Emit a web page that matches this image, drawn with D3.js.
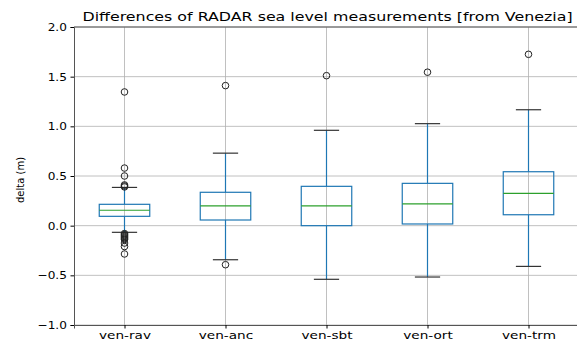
<!DOCTYPE html>
<html>
<head>
  <meta charset="utf-8">
  <title>Differences of RADAR sea level measurements</title>
  <script src="https://d3js.org/d3.v7.min.js"></script>
  <style>
    body { margin: 0; background: #fff; }
    text { font-family: "DejaVu Sans", sans-serif; fill: #000; }
    .grid line { stroke: #b0b0b0; stroke-width: 0.8px; }
    .box { fill: none; stroke: #1f77b4; stroke-width: 1.2px; }
    .whisker { stroke: #1f77b4; stroke-width: 1.2px; }
    .median { stroke: #2ca02c; stroke-width: 1.2px; }
    .cap { stroke: #333; stroke-width: 1.2px; }
    .flier { fill: none; stroke: #222; stroke-width: 1px; }
  </style>
</head>
<body>
  <svg width="577" height="343"></svg>

  <script>
    // data
    const categories = ["ven-rav", "ven-anc", "ven-sbt", "ven-ort", "ven-trm"];
    const q1 = [0.094, 0.057, 0.0, 0.017, 0.11];
    const median = [0.155, 0.20, 0.20, 0.22, 0.325];
    const q3 = [0.215, 0.336, 0.396, 0.426, 0.543];
    const whiskerLo = [-0.067, -0.343, -0.54, -0.517, -0.41];
    const whiskerHi = [0.385, 0.73, 0.96, 1.027, 1.167];
    const outliers = [
      [1.346, 0.58, 0.50, 0.41, 0.40, 0.39, -0.08, -0.09, -0.10, -0.11, -0.12, -0.13, -0.14, -0.175, -0.21, -0.285],
      [1.41, -0.393],
      [1.51],
      [1.545],
      [1.725]
    ];
    const yTicks = [-1.0, -0.5, 0.0, 0.5, 1.0, 1.5, 2.0];

    const width = 577, height = 343;
    const margin = { top: 27, right: -2, bottom: 18, left: 74 };

    const svg = d3.select("svg");

    const x = d3.scaleLinear()
      .domain([0.5, categories.length + 0.5])
      .range([margin.left, width - margin.right]);

    const y = d3.scaleLinear()
      .domain([-1.0, 2.0])
      .range([height - margin.bottom, margin.top]);

    // grid
    const grid = svg.append("g").attr("class", "grid");
    grid.selectAll(".hg")
      .data(yTicks)
      .enter().append("line")
      .attr("x1", margin.left).attr("x2", width)
      .attr("y1", d => y(d)).attr("y2", d => y(d));
    grid.selectAll(".vg")
      .data(categories)
      .enter().append("line")
      .attr("x1", (d, i) => x(i + 1)).attr("x2", (d, i) => x(i + 1))
      .attr("y1", y(-1)).attr("y2", y(2));

    // axes
    const yAxis = svg.append("g")
      .attr("transform", `translate(${margin.left},0)`)
      .call(d3.axisLeft(y).tickValues(yTicks).tickSize(3.5).tickPadding(3)
        .tickFormat(d => d3.format(".1f")(d).replace("-", "\u2212")));
    yAxis.select(".domain").attr("stroke", "#555");
    yAxis.selectAll("text").attr("font-size", 11)
      .attr("transform", "scale(1.1,1)");

    const xAxis = svg.append("g")
      .attr("transform", `translate(0,${y(-1)})`)
      .call(d3.axisBottom(x).tickValues(categories.map((d, i) => i + 1))
        .tickSize(3.5).tickPadding(3).tickFormat((d, i) => categories[i]));
    xAxis.select(".domain").attr("stroke", "#555");
    xAxis.selectAll("text").attr("font-size", 11)
      .attr("transform", "scale(1.24,1)");

    // top spine
    svg.append("line")
      .attr("x1", margin.left).attr("x2", width)
      .attr("y1", y(2)).attr("y2", y(2))
      .attr("stroke", "#555");

    // boxes
    const boxW = 0.5, capW = 0.25;
    const g = svg.append("g");
    categories.forEach((c, i) => {
      const cx = x(i + 1);
      const half = (x(1 + boxW / 2) - x(1));
      const capHalf = (x(1 + capW / 2) - x(1));
      g.append("line").attr("class", "whisker")
        .attr("x1", cx).attr("x2", cx).attr("y1", y(q1[i])).attr("y2", y(whiskerLo[i]));
      g.append("line").attr("class", "whisker")
        .attr("x1", cx).attr("x2", cx).attr("y1", y(q3[i])).attr("y2", y(whiskerHi[i]));
      g.append("line").attr("class", "cap")
        .attr("x1", cx - capHalf).attr("x2", cx + capHalf)
        .attr("y1", y(whiskerLo[i])).attr("y2", y(whiskerLo[i]));
      g.append("line").attr("class", "cap")
        .attr("x1", cx - capHalf).attr("x2", cx + capHalf)
        .attr("y1", y(whiskerHi[i])).attr("y2", y(whiskerHi[i]));
      g.append("rect").attr("class", "box")
        .attr("x", cx - half).attr("width", 2 * half)
        .attr("y", y(q3[i])).attr("height", y(q1[i]) - y(q3[i]));
      g.append("line").attr("class", "median")
        .attr("x1", cx - half).attr("x2", cx + half)
        .attr("y1", y(median[i])).attr("y2", y(median[i]));
      g.selectAll(null)
        .data(outliers[i])
        .enter().append("circle")
        .attr("class", "flier")
        .attr("cx", cx).attr("cy", d => y(d)).attr("r", 3.3);
    });

    // title and label
    svg.append("text")
      .attr("transform", `translate(${(margin.left + width) / 2 + 2},21) scale(1.32,1)`)
      .attr("text-anchor", "middle")
      .attr("font-size", 12)
      .text("Differences of RADAR sea level measurements [from Venezia]");

    svg.append("text")
      .attr("transform", `translate(24,${y(0.46)}) rotate(-90)`)
      .attr("text-anchor", "middle")
      .attr("font-size", 10)
      .text("delta (m)");
  </script>
</body>
</html>
